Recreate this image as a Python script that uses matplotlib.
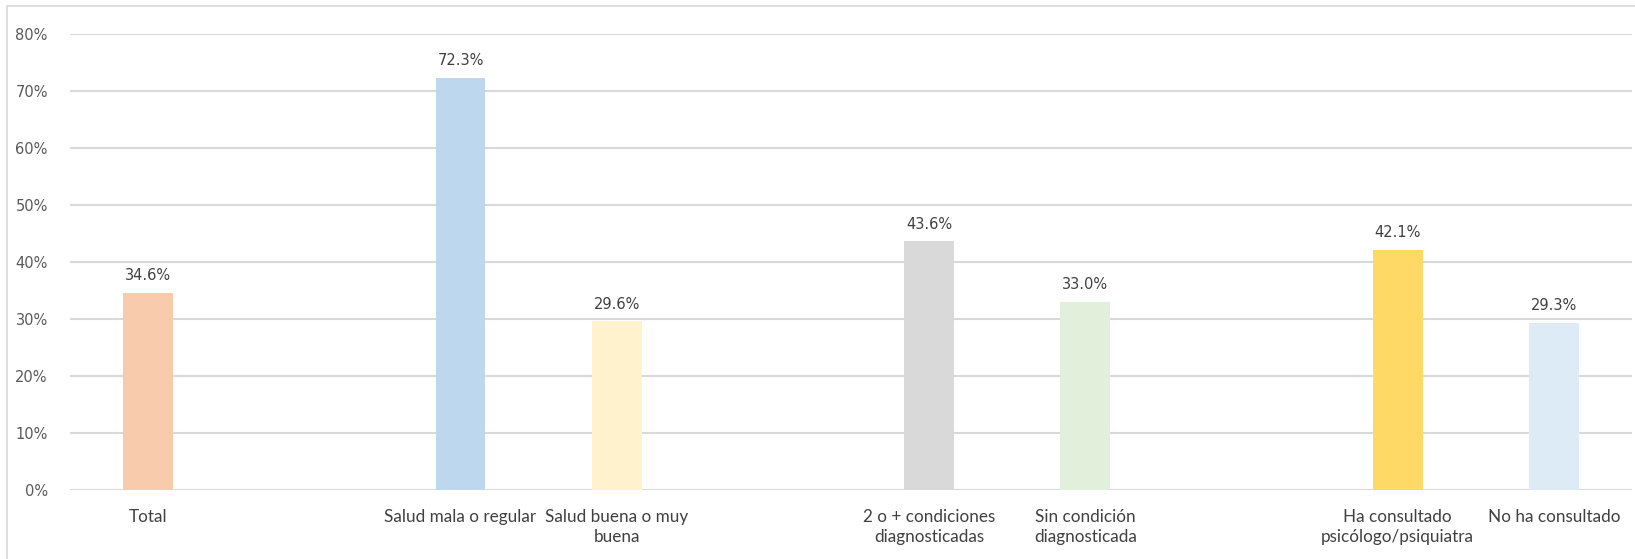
import matplotlib
matplotlib.use("Agg")
import matplotlib.pyplot as plt
from matplotlib.patches import Rectangle
import numpy as np

categories = ["Total", "", "Salud mala o regular", "Salud buena o muy\nbuena", "",
              "2 o + condiciones\ndiagnosticadas", "Sin condición\ndiagnosticada", "",
              "Ha consultado\npsicólogo/psiquiatra", "No ha consultado"]
values = [34.6, None, 72.3, 29.6, None, 43.6, 33.0, None, 42.1, 29.3]
colors = ["#F8CBAD", "none", "#BDD7EE", "#FFF2CC", "none",
          "#D9D9D9", "#E2EFDA", "none", "#FFD966", "#DDEBF7"]
yticks = [0, 10, 20, 30, 40, 50, 60, 70, 80]

fig = plt.figure(figsize=(16.35, 5.59), dpi=100)
ax = fig.add_axes([70/1635, 1-490/559, (1632-70)/1635, (490-34)/559])

x = np.arange(len(categories))
for i, (v, c) in enumerate(zip(values, colors)):
    if v is None:
        continue
    ax.bar(x[i], v, width=0.32, color=c, zorder=3)
    ax.annotate(f"{v:.1f}%", (x[i], v), xytext=(0, 7), textcoords="offset points",
                ha="center", va="bottom", fontsize=10.5, color="#404040",
                family="DejaVu Sans")

ax.set_xlim(-0.5, len(categories) - 0.5)
ax.set_ylim(0, 80)
ax.set_yticks(yticks)
ax.set_yticklabels([f"{t}%" for t in yticks], fontsize=10.5, color="#595959")
ax.set_xticks(x)
ax.set_xticklabels(categories, fontsize=12.3, color="#404040", family="Lato",
                   linespacing=1.3)
ax.tick_params(axis="both", length=0)
ax.tick_params(axis="x", pad=14)
ax.tick_params(axis="y", pad=16)
ax.grid(axis="y", color="#D9D9D9", linewidth=1.5, zorder=0)
for s in ax.spines.values():
    s.set_visible(False)

fig.patches.append(Rectangle((7/1635, -0.1), 1.2, 1 - 6/559 + 0.1,
                             transform=fig.transFigure, fill=False,
                             edgecolor="#D9D9D9", linewidth=1.2))

fig.savefig("out.png", dpi=100)
